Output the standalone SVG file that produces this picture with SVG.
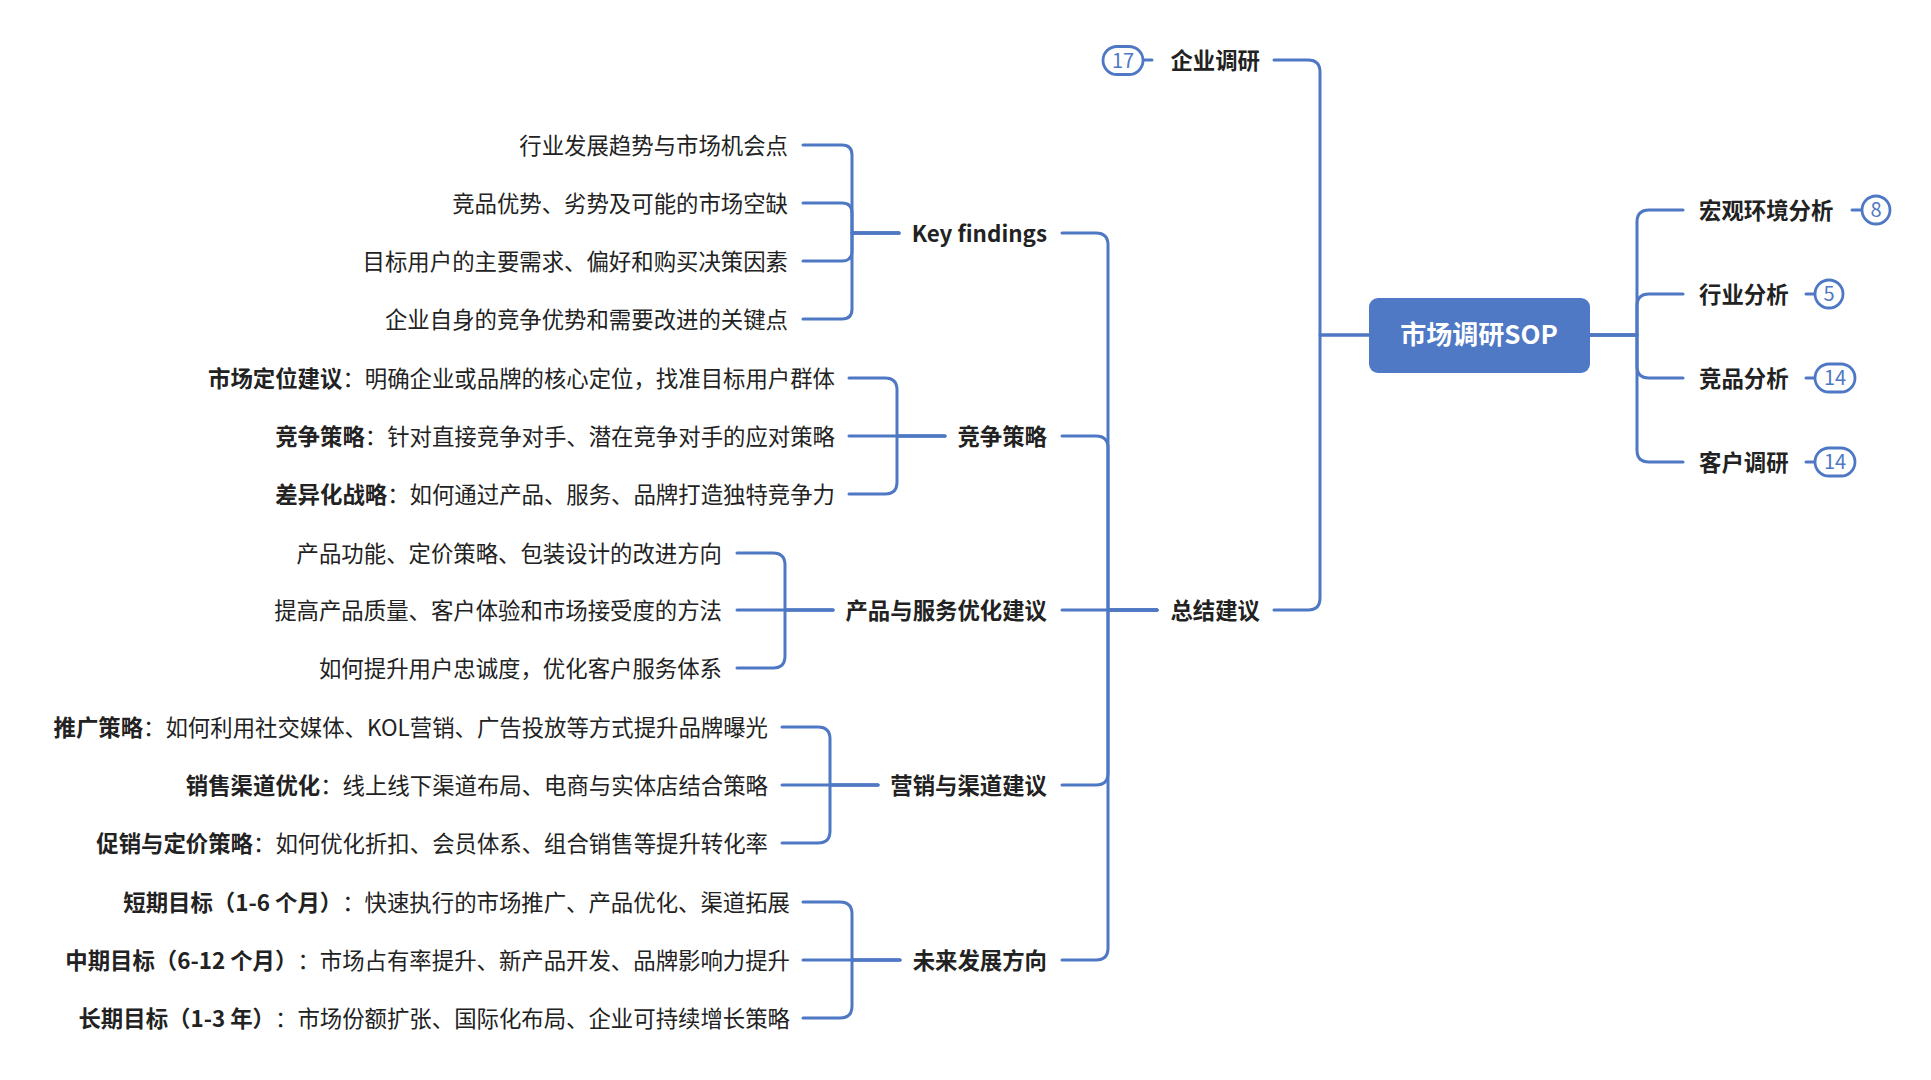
<svg xmlns="http://www.w3.org/2000/svg" width="1931" height="1080" viewBox="0 0 1931 1080">
<style>
text{font-family:"Noto Sans CJK SC","Noto Sans",sans-serif;fill:#222;font-size:22.4px;text-spacing-trim:space-all}
.b{font-weight:bold}
.l{text-anchor:end}
.c{fill:none;stroke:#4F78C4;stroke-width:3;stroke-linecap:round;stroke-linejoin:round}
.badge{fill:#fff;stroke:#4F78C4;stroke-width:2.8}
.bt{fill:#4F78C4;font-size:20px;text-anchor:middle}
.root{fill:#5079C5}
.rt{fill:#fff;font-size:26px;font-weight:bold;text-anchor:middle}
</style>
<rect width="1931" height="1080" fill="#fff"/>
<g id="connectors" class="c">
<path d="M1369 335 H1320 V72 Q1320 60 1308 60 H1274"/>
<path d="M1369 335 H1320 V598 Q1320 610 1308 610 H1274"/>
<path d="M1590 335 H1637 V222 Q1637 210 1649 210 H1683"/>
<path d="M1590 335 H1637 V306 Q1637 294 1649 294 H1683"/>
<path d="M1590 335 H1637 V366 Q1637 378 1649 378 H1683"/>
<path d="M1590 335 H1637 V450 Q1637 462 1649 462 H1683"/>
<path d="M1143 60 H1152"/>
<path d="M1852 210 H1862"/>
<path d="M1806 294 H1815"/>
<path d="M1806 378 H1815"/>
<path d="M1806 462 H1815"/>
<path d="M1157 610 H1108 V245 Q1108 233 1096 233 H1062"/>
<path d="M1157 610 H1108 V448 Q1108 436 1096 436 H1062"/>
<path d="M1157 610 H1062"/>
<path d="M1157 610 H1108 V773 Q1108 785 1096 785 H1062"/>
<path d="M1157 610 H1108 V948 Q1108 960 1096 960 H1062"/>
<path d="M899 233 H852 V155 Q852 145 842 145 H803"/>
<path d="M899 233 H852 V213 Q852 203 842 203 H803"/>
<path d="M899 233 H852 V251 Q852 261 842 261 H803"/>
<path d="M899 233 H852 V309 Q852 319 842 319 H803"/>
<path d="M945 436 H897 V390 Q897 378 885 378 H849"/>
<path d="M945 436 H849"/>
<path d="M945 436 H897 V482 Q897 494 885 494 H849"/>
<path d="M833 610 H785 V565 Q785 553 773 553 H737"/>
<path d="M833 610 H737"/>
<path d="M833 610 H785 V656 Q785 668 773 668 H737"/>
<path d="M878 785 H830 V739 Q830 727 818 727 H782"/>
<path d="M878 785 H782"/>
<path d="M878 785 H830 V831 Q830 843 818 843 H782"/>
<path d="M900 960 H852 V914 Q852 902 840 902 H803"/>
<path d="M900 960 H803"/>
<path d="M900 960 H852 V1006 Q852 1018 840 1018 H803"/>
</g>

<g id="root">
<rect class="root" x="1369" y="298" width="221" height="75" rx="9"/>
<text class="rt" x="1479" y="344">市场调研SOP</text>
</g>

<g id="n-qiye">
<text class="b l" x="1260" y="69">企业调研</text>
<rect class="badge" x="1103" y="46.5" width="40" height="28" rx="14"/>
<text class="bt" x="1123" y="67.5">17</text>
</g>
<g id="n-hongguan">
<text class="b" x="1699" y="219">宏观环境分析</text>
<circle class="badge" cx="1876" cy="210" r="14"/>
<text class="bt" x="1876" y="217">8</text>
</g>
<g id="n-hangye">
<text class="b" x="1699" y="303">行业分析</text>
<circle class="badge" cx="1829" cy="294" r="14"/>
<text class="bt" x="1829" y="301">5</text>
</g>
<g id="n-jingpin">
<text class="b" x="1699" y="387">竞品分析</text>
<rect class="badge" x="1815" y="364" width="40" height="28" rx="14"/>
<text class="bt" x="1835" y="385">14</text>
</g>
<g id="n-kehu">
<text class="b" x="1699" y="471">客户调研</text>
<rect class="badge" x="1815" y="448" width="40" height="28" rx="14"/>
<text class="bt" x="1835" y="469">14</text>
</g>

<g id="n-zongjie">
<text class="b l" x="1260" y="619">总结建议</text>
</g>

<g id="n-keyfindings">
<text class="b l" x="1047" y="242">Key findings</text>
</g>
<g id="kf-1"><text class="l" x="788" y="154">行业发展趋势与市场机会点</text></g>
<g id="kf-2"><text class="l" x="788" y="212">竞品优势、劣势及可能的市场空缺</text></g>
<g id="kf-3"><text class="l" x="788" y="270">目标用户的主要需求、偏好和购买决策因素</text></g>
<g id="kf-4"><text class="l" x="788" y="328">企业自身的竞争优势和需要改进的关键点</text></g>

<g id="n-jingzheng">
<text class="b l" x="1047" y="445">竞争策略</text>
</g>
<g id="jz-1"><text class="l" x="835" y="387"><tspan class="b">市场定位建议</tspan>：明确企业或品牌的核心定位，找准目标用户群体</text></g>
<g id="jz-2"><text class="l" x="835" y="445"><tspan class="b">竞争策略</tspan>：针对直接竞争对手、潜在竞争对手的应对策略</text></g>
<g id="jz-3"><text class="l" x="835" y="503"><tspan class="b">差异化战略</tspan>：如何通过产品、服务、品牌打造独特竞争力</text></g>

<g id="n-chanpin">
<text class="b l" x="1047" y="619">产品与服务优化建议</text>
</g>
<g id="cp-1"><text class="l" x="722" y="562">产品功能、定价策略、包装设计的改进方向</text></g>
<g id="cp-2"><text class="l" x="722" y="619">提高产品质量、客户体验和市场接受度的方法</text></g>
<g id="cp-3"><text class="l" x="722" y="677">如何提升用户忠诚度，优化客户服务体系</text></g>

<g id="n-yingxiao">
<text class="b l" x="1047" y="794">营销与渠道建议</text>
</g>
<g id="yx-1"><text class="l" x="768" y="736"><tspan class="b">推广策略</tspan>：如何利用社交媒体、KOL营销、广告投放等方式提升品牌曝光</text></g>
<g id="yx-2"><text class="l" x="768" y="794"><tspan class="b">销售渠道优化</tspan>：线上线下渠道布局、电商与实体店结合策略</text></g>
<g id="yx-3"><text class="l" x="768" y="852"><tspan class="b">促销与定价策略</tspan>：如何优化折扣、会员体系、组合销售等提升转化率</text></g>

<g id="n-weilai">
<text class="b l" x="1047" y="969">未来发展方向</text>
</g>
<g id="wl-1"><text class="l" x="790" y="911"><tspan class="b">短期目标（1-6 个月）</tspan>：快速执行的市场推广、产品优化、渠道拓展</text></g>
<g id="wl-2"><text class="l" x="790" y="969"><tspan class="b">中期目标（6-12 个月）</tspan>：市场占有率提升、新产品开发、品牌影响力提升</text></g>
<g id="wl-3"><text class="l" x="790" y="1027"><tspan class="b">长期目标（1-3 年）</tspan>：市场份额扩张、国际化布局、企业可持续增长策略</text></g>
</svg>
